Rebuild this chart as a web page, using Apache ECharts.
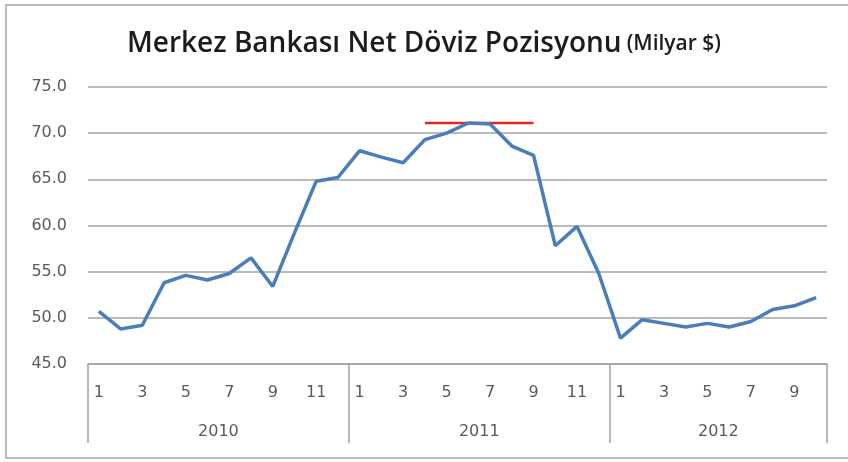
<!DOCTYPE html>
<html>
<head>
<meta charset="utf-8">
<script src="https://cdn.jsdelivr.net/npm/echarts@6/dist/echarts.min.js"></script>
<style>
  html, body { margin: 0; padding: 0; background: #fff; }
  #chart { width: 848px; height: 462px; }
</style>
</head>
<body>
<div id="chart"></div>
<script>
// Merkez Bankası net döviz pozisyonu, aylık (milyar $)
const years = ['2010', '2011', '2012']
const monthsPerYear = [12, 12, 10]
const values2010 = [50.7, 48.8, 49.2, 53.8, 54.6, 54.1, 54.8, 56.5, 53.4, 59.2, 64.8, 65.2]
const values2011 = [68.1, 67.4, 66.8, 69.3, 70.0, 71.1, 71.0, 68.6, 67.6, 57.8, 59.9, 54.8]
const values2012 = [47.8, 49.8, 49.4, 49.0, 49.4, 49.0, 49.6, 50.9, 51.3, 52.2]
const yTicks = [45, 50, 55, 60, 65, 70, 75]
const peakLevel = 71.1
const peakRange = [15, 20] // category indexes covered by the red peak line

const values = [...values2010, ...values2011, ...values2012]
const categories = []
years.forEach((y, i) => {
  for (let m = 1; m <= monthsPerYear[i]; m++) categories.push(y + '-' + m)
})

// year group borders and centers on a 0..N value scale
const bounds = [0]
monthsPerYear.forEach(n => bounds.push(bounds[bounds.length - 1] + n))
const centers = years.map((_, i) => (bounds[i] + bounds[i + 1]) / 2)

const peakData = values.map((_, i) => (i >= peakRange[0] && i <= peakRange[1] ? peakLevel : null))

const gridColor = '#a3a3a3'
const labelColor = '#5a5a5a'
const axisFont = 'DejaVu Sans'

const chart = echarts.init(document.getElementById('chart'))
chart.setOption({
  animation: false,
  backgroundColor: '#fff',
  title: {
    text: '{a|Merkez Bankası Net Döviz Pozisyonu} {b|(Milyar $)}',
    left: 'center',
    top: 25,
    textStyle: {
      rich: {
        a: { fontFamily: 'Open Sans', fontSize: 28, fontWeight: 600, color: '#1c1c1c' },
        b: { fontFamily: 'Open Sans', fontSize: 21, fontWeight: 600, color: '#1c1c1c' }
      }
    }
  },
  graphic: [{
    type: 'rect',
    shape: { x: 6, y: 5, width: 870, height: 453 },
    style: { fill: 'none', stroke: '#a8a8a8', lineWidth: 1.5 },
    silent: true
  }],
  grid: { left: 88, right: 21, top: 87, bottom: 98 },
  xAxis: [
    {
      type: 'category',
      data: categories,
      boundaryGap: true,
      axisLine: { lineStyle: { color: gridColor, width: 1.5 } },
      axisTick: { show: false },
      axisLabel: {
        interval: 1,
        margin: 21,
        color: labelColor,
        fontFamily: axisFont,
        fontSize: 16,
        formatter: v => v.split('-')[1]
      }
    },
    {
      type: 'value',
      min: 0,
      max: bounds[bounds.length - 1],
      position: 'bottom',
      axisLine: { show: false },
      splitLine: { show: false },
      axisTick: {
        customValues: bounds,
        length: 79,
        lineStyle: { color: gridColor, width: 1.5 }
      },
      axisLabel: {
        customValues: centers,
        margin: 60,
        color: labelColor,
        fontFamily: axisFont,
        fontSize: 16,
        formatter: v => years[centers.indexOf(v)] || ''
      }
    }
  ],
  yAxis: {
    type: 'value',
    min: yTicks[0],
    max: yTicks[yTicks.length - 1],
    interval: 5,
    axisLine: { show: false },
    axisTick: { show: false },
    splitLine: { lineStyle: { color: gridColor, width: 1.5 } },
    axisLabel: {
      margin: 21,
      color: labelColor,
      fontFamily: axisFont,
      fontSize: 16,
      formatter: v => v.toFixed(1)
    }
  },
  series: [
    {
      type: 'line',
      data: values,
      showSymbol: false,
      lineStyle: { color: '#4a7ebb', width: 3.5 },
      z: 3
    },
    {
      type: 'line',
      data: peakData,
      showSymbol: false,
      lineStyle: { color: '#e8231f', width: 2.5 },
      z: 2
    }
  ]
})
</script>
</body>
</html>
